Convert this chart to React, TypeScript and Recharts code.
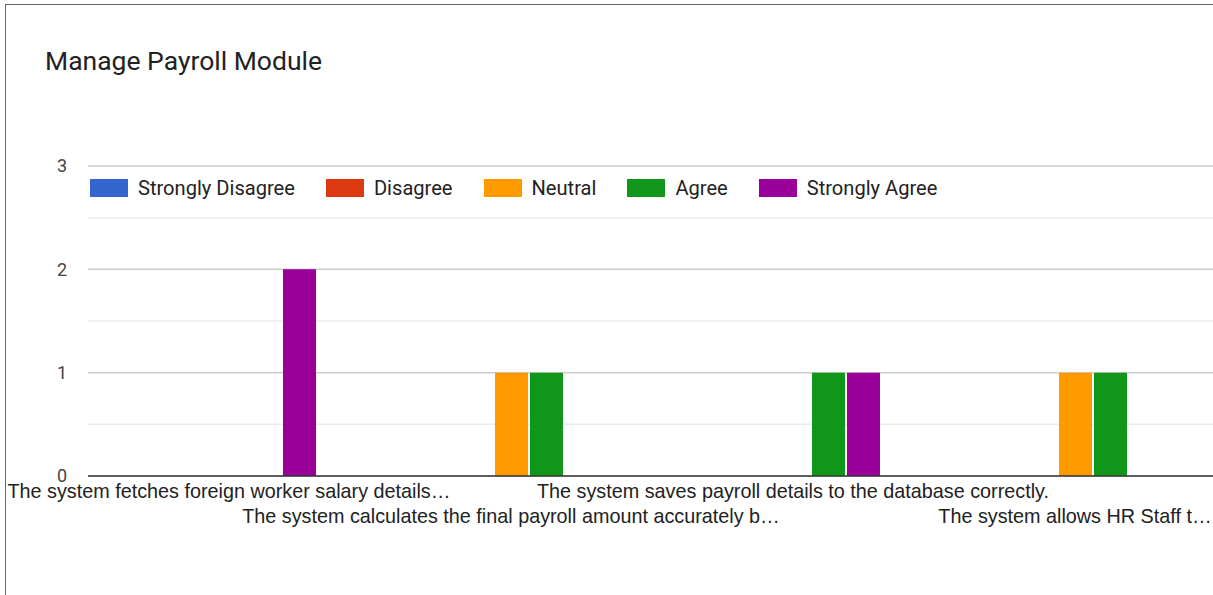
import React from "react";
import {
  BarChart,
  Bar,
  XAxis,
  YAxis,
  CartesianGrid,
  Legend,
} from "recharts";

const categories = [
  "The system fetches foreign worker salary details…",
  "The system calculates the final payroll amount accurately b…",
  "The system saves payroll details to the database correctly.",
  "The system allows HR Staff t…",
];

const stronglyDisagree = [0, 0, 0, 0];
const disagree = [0, 0, 0, 0];
const neutral = [0, 1, 0, 1];
const agree = [0, 1, 1, 1];
const stronglyAgree = [2, 0, 1, 0];

// major ticks on whole numbers, minor gridlines on the halves
const yTicks = [0, 0.5, 1, 1.5, 2, 2.5, 3];

const SERIES = [
  { key: "sd", name: "Strongly Disagree", color: "#3366cc", values: stronglyDisagree },
  { key: "d", name: "Disagree", color: "#dc3912", values: disagree },
  { key: "n", name: "Neutral", color: "#ff9900", values: neutral },
  { key: "a", name: "Agree", color: "#109618", values: agree },
  { key: "sa", name: "Strongly Agree", color: "#990099", values: stronglyAgree },
];

const chartData = categories.map((label, i) => {
  const row: any = { label };
  SERIES.forEach((s) => {
    row[s.key] = s.values[i];
  });
  return row;
});

const AxisLabel = ({ x, y, payload, index }: any) => {
  const dy = index % 2 === 0 ? 22 : 47;
  return (
    <text
      x={x}
      y={y + dy}
      textAnchor="middle"
      fill="#222"
      fontFamily="'Liberation Sans', Arial, sans-serif"
      fontSize={19.8}
    >
      {payload.value}
    </text>
  );
};

const GridLine = (props: any) => {
  const { x1, x2, y1, y2, index } = props;
  const minor = index % 2 === 1;
  return (
    <line
      x1={x1}
      x2={x2}
      y1={y1}
      y2={y2}
      stroke={minor ? "#ebebeb" : "#cccccc"}
      strokeWidth={1.5}
    />
  );
};

const renderLegend = () => (
  <div
    style={{
      display: "flex",
      alignItems: "center",
      fontFamily: "Roboto, sans-serif",
      fontSize: 20.1,
      color: "#222",
      whiteSpace: "nowrap",
    }}
  >
    {SERIES.map((s) => (
      <div key={s.key} style={{ display: "flex", alignItems: "center", marginRight: 31 }}>
        <span
          style={{ display: "inline-block", width: 38, height: 18, background: s.color, marginRight: 10 }}
        />
        <span>{s.name}</span>
      </div>
    ))}
  </div>
);

export default function App() {
  return (
    <div
      style={{
        position: "absolute",
        left: 0,
        top: 0,
        width: 1213,
        height: 595,
        overflow: "hidden",
        background: "#fff",
      }}
    >
      <div
        style={{
          position: "absolute",
          left: 5,
          top: 4,
          width: 1300,
          height: 700,
          border: "1.5px solid #666",
        }}
      />
      <div
        style={{
          position: "absolute",
          left: 45,
          top: 45,
          fontFamily: "Roboto, sans-serif",
          fontSize: 26.5,
          lineHeight: "32px",
          color: "#222",
        }}
      >
        Manage Payroll Module
      </div>
      <div style={{ position: "absolute", left: 0, top: 0 }}>
        <BarChart
          width={1220}
          height={595}
          data={chartData}
          margin={{ top: 166, right: 4, bottom: 59, left: 0 }}
          barSize={33}
          barGap={2}
        >
          <CartesianGrid vertical={false} horizontal={GridLine} />
          <XAxis
            dataKey="label"
            interval={0}
            tickLine={false}
            tickSize={0}
            tickMargin={0}
            height={60}
            axisLine={{ stroke: "#333", strokeWidth: 1.5 }}
            tick={<AxisLabel />}
          />
          <YAxis
            domain={[0, 3]}
            ticks={yTicks}
            interval={0}
            width={88}
            axisLine={false}
            tickLine={false}
            tickSize={0}
            tickMargin={21}
            tickFormatter={(v: number) => (Number.isInteger(v) ? String(v) : "")}
            tick={{ fill: "#444", fontSize: 18, fontFamily: "Roboto, sans-serif" }}
          />
          <Legend
            layout="horizontal"
            verticalAlign="middle"
            align="center"
            content={renderLegend}
            wrapperStyle={{ top: 176, left: 90, width: "auto", height: 22 }}
          />
          {SERIES.map((s) => (
            <Bar
              key={s.key}
              dataKey={s.key}
              name={s.name}
              fill={s.color}
              isAnimationActive={false}
            />
          ))}
        </BarChart>
      </div>
    </div>
  );
}
